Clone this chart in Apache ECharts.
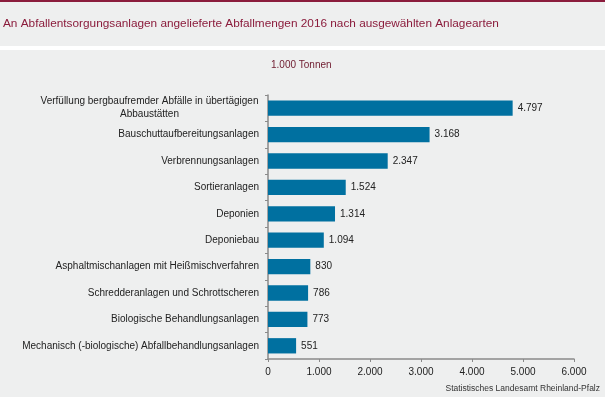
<!DOCTYPE html>
<html>
<head>
<meta charset="utf-8">
<script src="https://cdn.jsdelivr.net/npm/echarts@6/dist/echarts.min.js"></script>
<style>
  html, body { margin: 0; padding: 0; background: #eeefef; }
  #chart { width: 605px; height: 397px; }
</style>
</head>
<body>
<div id="chart"></div>
<script>
// Anlagearten, von oben nach unten
const categories = [
  'Verfüllung bergbaufremder Abfälle in übertägigen\nAbbaustätten',
  'Bauschuttaufbereitungsanlagen',
  'Verbrennungsanlagen',
  'Sortieranlagen',
  'Deponien',
  'Deponiebau',
  'Asphaltmischanlagen mit Heißmischverfahren',
  'Schredderanlagen und Schrottscheren',
  'Biologische Behandlungsanlagen',
  'Mechanisch (-biologische) Abfallbehandlungsanlagen'
]
// 1.000 Tonnen
const values = [4797, 3168, 2347, 1524, 1314, 1094, 830, 786, 773, 551]
const xTicks = [0, 1000, 2000, 3000, 4000, 5000, 6000]

const fmt = (v) => {
  // deutsches Tausendertrennzeichen
  return String(v).replace(/\B(?=(\d{3})+(?!\d))/g, '.')
}

const chart = echarts.init(document.getElementById('chart'))
const font = '"Liberation Sans", Arial, sans-serif'

const option = {
  backgroundColor: '#eeefef',
  animation: false,
  textStyle: { fontFamily: font },
  graphic: [
    { type: 'rect', left: 0, top: 0, shape: { width: 605, height: 2 }, style: { fill: '#8b1c3c' } },
    { type: 'rect', left: 0, top: 46, shape: { width: 605, height: 4 }, style: { fill: '#ffffff' } },
    {
      type: 'text', left: 3, top: 18,
      style: {
        text: 'An Abfallentsorgungsanlagen angelieferte Abfallmengen 2016 nach ausgewählten Anlagearten',
        fill: '#8b1c3c', font: '11.8px ' + font
      }
    },
    {
      type: 'text', left: 271, top: 60,
      style: { text: '1.000 Tonnen', fill: '#6e1a2e', font: '10px ' + font }
    },
    {
      type: 'text', right: 5, top: 384,
      style: { text: 'Statistisches Landesamt Rheinland-Pfalz', fill: '#333333', font: '8.5px ' + font }
    }
  ],
  grid: { left: 268, right: 31, top: 95, bottom: 38 },
  xAxis: {
    type: 'value',
    min: xTicks[0],
    max: xTicks[xTicks.length - 1],
    interval: 1000,
    splitLine: { show: false },
    axisLine: { show: true, lineStyle: { color: '#8a8a8a', width: 1.5 } },
    axisTick: { show: true, length: 3, lineStyle: { color: '#8a8a8a' } },
    axisLabel: { color: '#222', fontSize: 10, margin: 8, formatter: fmt }
  },
  yAxis: {
    type: 'category',
    inverse: true,
    data: categories,
    axisLine: { show: true, lineStyle: { color: '#8a8a8a', width: 1.5 } },
    axisTick: { show: true, length: 3, lineStyle: { color: '#8a8a8a' } },
    axisLabel: {
      color: '#222', fontSize: 10, margin: 9, lineHeight: 13, align: 'right',
      formatter: (v) => {
        if (v.indexOf('\n') < 0) return v
        // zweizeiliges Label mittig gesetzt
        return v.split('\n').map((s) => '{c|' + s + '}').join('\n')
      },
      rich: {
        c: { width: 219, align: 'center', fontSize: 10, lineHeight: 13, color: '#222' }
      }
    }
  },
  series: [{
    type: 'bar',
    data: values,
    barCategoryGap: '42%',
    itemStyle: { color: '#0070a0' },
    label: {
      show: true,
      position: 'right',
      distance: 5,
      color: '#222',
      fontSize: 10,
      formatter: (p) => fmt(p.value)
    }
  }]
}
chart.setOption(option)
</script>
</body>
</html>
